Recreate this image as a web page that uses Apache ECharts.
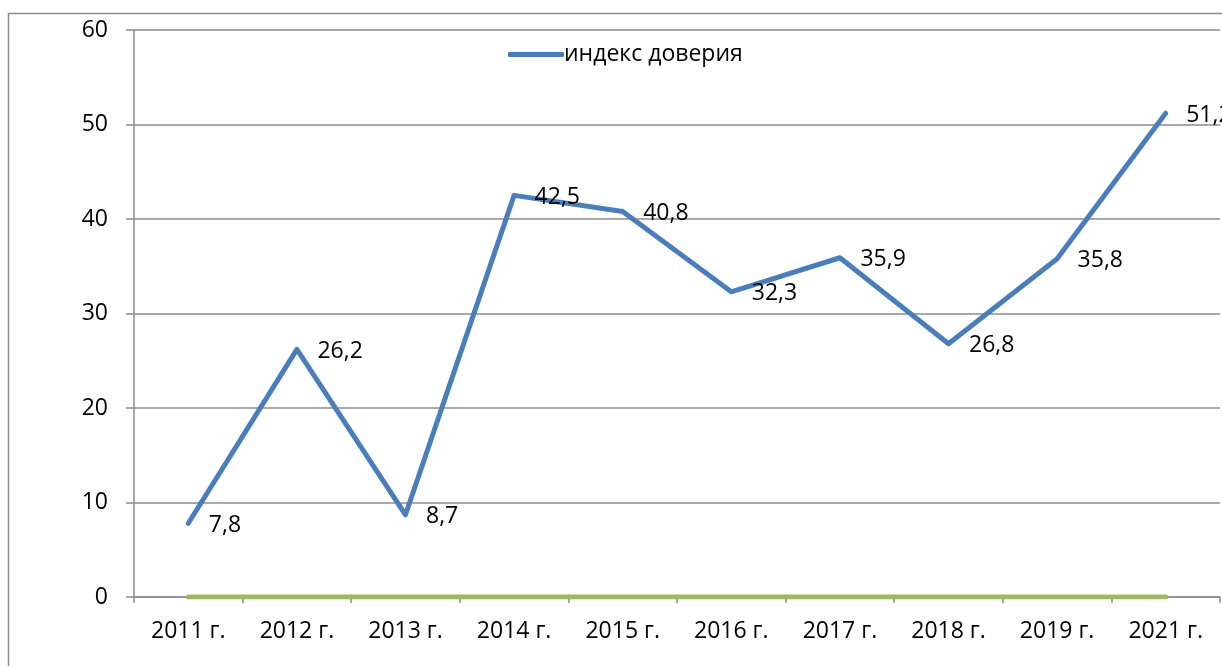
<!DOCTYPE html>
<html>
<head>
<meta charset="utf-8">
<script src="https://cdn.jsdelivr.net/npm/echarts@6/dist/echarts.min.js"></script>
<style>
  html, body { margin: 0; padding: 0; background: #fff; }
  #chart { width: 1222px; height: 666px; }
</style>
</head>
<body>
<div id="chart"></div>
<script>
// данные графика
const years = ["2011 г.", "2012 г.", "2013 г.", "2014 г.", "2015 г.", "2016 г.", "2017 г.", "2018 г.", "2019 г.", "2021 г."];
const trustIndex = [7.8, 26.2, 8.7, 42.5, 40.8, 32.3, 35.9, 26.8, 35.8, 51.2];
const zeroLine = [0, 0, 0, 0, 0, 0, 0, 0, 0, 0];
const seriesName = "индекс доверия";

const font = "'Open Sans', 'Noto Sans', sans-serif";
const chart = echarts.init(document.getElementById("chart"));

chart.setOption({
  animation: false,
  textStyle: { fontFamily: font },
  graphic: [
    {
      type: "rect",
      shape: { x: 8.5, y: 13.5, width: 1400, height: 800 },
      style: { fill: "none", stroke: "#8c8c8c", lineWidth: 1.5 },
      z: -1,
    },
  ],
  grid: { left: 134, right: 2, top: 30, bottom: 69 },
  legend: {
    data: [seriesName],
    left: 503,
    top: 38,
    itemWidth: 56,
    itemHeight: 5,
    icon: "roundRect",
    itemGap: 4,
    textStyle: { fontSize: 23, color: "#000", fontFamily: font, padding: [0, 0, 0, -5] },
  },
  xAxis: {
    type: "category",
    data: years,
    boundaryGap: true,
    axisLine: { lineStyle: { color: "#8c8c8c", width: 1.5 } },
    axisTick: { show: true, length: 6, lineStyle: { color: "#8c8c8c", width: 1.5 } },
    axisLabel: { fontSize: 23, color: "#000", margin: 23, fontFamily: font },
    splitLine: { show: false },
  },
  yAxis: {
    type: "value",
    min: 0,
    max: 60,
    interval: 10,
    axisLine: { show: true, lineStyle: { color: "#8c8c8c", width: 1.5 } },
    axisTick: { show: true, length: 8, lineStyle: { color: "#8c8c8c", width: 1.5 } },
    axisLabel: { fontSize: 23, color: "#000", margin: 26, fontFamily: font },
    splitLine: { show: true, lineStyle: { color: "#8c8c8c", width: 1.5 } },
  },
  series: [
    {
      name: "zero",
      type: "line",
      data: zeroLine,
      symbol: "none",
      lineStyle: { color: "#9bbb59", width: 5, cap: "round" },
      itemStyle: { color: "#9bbb59" },
      z: 3,
    },
    {
      name: seriesName,
      type: "line",
      data: trustIndex,
      symbol: "circle",
      symbolSize: 1,
      showSymbol: true,
      lineStyle: { color: "#4a7ebb", width: 5, cap: "round", join: "round" },
      itemStyle: { color: "#4a7ebb" },
      label: {
        show: true,
        position: "right",
        distance: 20,
        offset: [0, 2],
        fontSize: 23,
        color: "#000",
        fontFamily: font,
        formatter: (p) => String(p.value).replace(".", ","),
      },
      z: 4,
    },
  ],
});
</script>
</body>
</html>
